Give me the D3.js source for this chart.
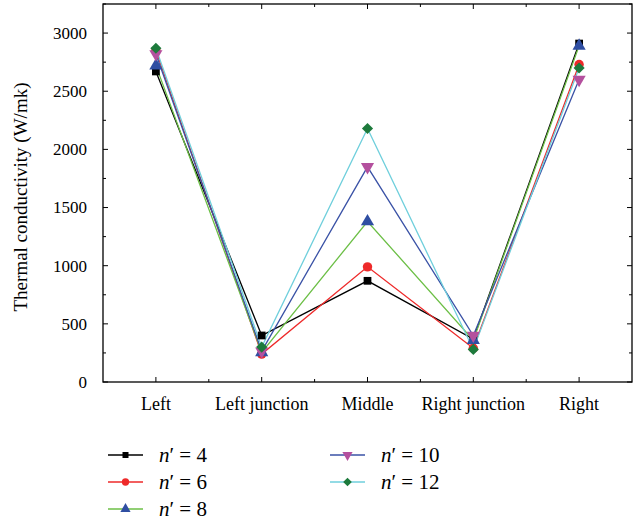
<!DOCTYPE html>
<html>
<head>
<meta charset="utf-8">
<script src="https://cdn.jsdelivr.net/npm/d3@7"></script>
<style>
  body { margin: 0; background: #fff; }
  svg { display: block; }
</style>
</head>
<body>
<div id="chart"></div>
<script>
// categories along the x axis
var categories = ["Left", "Left junction", "Middle", "Right junction", "Right"];

// series values (W/mk)
var n4  = [2670, 400, 870, 370, 2910];
var n6  = [2850, 240, 990, 290, 2730];
var n8  = [2720, 255, 1380, 360, 2890];
var n10 = [2820, 265, 1850, 400, 2600];
var n12 = [2870, 300, 2180, 280, 2700];

var seriesNames = ["4", "6", "8", "10", "12"];
var yTicks = [0, 500, 1000, 1500, 2000, 2500, 3000];

var serif = "'Liberation Serif', 'Times New Roman', 'DejaVu Serif', serif";

// set the dimensions and margins of the graph
var margin = {top: 4, right: 6, bottom: 140, left: 103},
    width = 638 - margin.left - margin.right,
    height = 522 - margin.top - margin.bottom;

var styles = [
  {line: "#000000", fill: "#000000", shape: "square"},
  {line: "#ee2a2a", fill: "#ee2a2a", shape: "circle"},
  {line: "#6cbf46", fill: "#2f4ea2", shape: "triangle"},
  {line: "#3a52a6", fill: "#b4509e", shape: "triangleDown"},
  {line: "#6fcfdc", fill: "#1d7a3c", shape: "diamond"}
];

var allSeries = [n4, n6, n8, n10, n12];

var svg = d3.select("#chart").append("svg")
    .attr("width", 638)
    .attr("height", 522)
    .attr("font-family", serif);

var g = svg.append("g")
    .attr("transform", "translate(" + margin.left + "," + margin.top + ")");

// set the ranges
var x = d3.scalePoint()
    .domain(categories)
    .range([0, width])
    .padding(0.5);
var y = d3.scaleLinear()
    .domain([0, 3250])
    .range([height, 0]);

var step = x.step();

// frame
g.append("rect")
    .attr("width", width)
    .attr("height", height)
    .attr("fill", "none")
    .attr("stroke", "#000")
    .attr("stroke-width", 1.3);

// y axis ticks (inward, mirrored on the right)
var minorY = d3.range(0, 3251, 250);
minorY.forEach(function(v) {
  var len = (v % 500 === 0) ? 5 : 3;
  g.append("line").attr("x1", 0).attr("x2", len)
    .attr("y1", y(v)).attr("y2", y(v)).attr("stroke", "#000");
  g.append("line").attr("x1", width).attr("x2", width - len)
    .attr("y1", y(v)).attr("y2", y(v)).attr("stroke", "#000");
});

g.selectAll(".ylab")
    .data(yTicks)
    .enter().append("text")
    .attr("class", "ylab")
    .attr("x", -16)
    .attr("y", function(d) { return y(d); })
    .attr("dy", "0.35em")
    .attr("text-anchor", "end")
    .attr("font-family", serif)
    .style("font-size", "17px")
    .text(function(d) { return d; });

// x axis ticks (inward, mirrored on top)
categories.forEach(function(c, i) {
  var cx = x(c);
  g.append("line").attr("x1", cx).attr("x2", cx)
    .attr("y1", height).attr("y2", height - 5).attr("stroke", "#000");
  g.append("line").attr("x1", cx).attr("x2", cx)
    .attr("y1", 0).attr("y2", 5).attr("stroke", "#000");
  if (i < categories.length - 1) {
    var mx = cx + step / 2;
    g.append("line").attr("x1", mx).attr("x2", mx)
      .attr("y1", height).attr("y2", height - 3).attr("stroke", "#000");
    g.append("line").attr("x1", mx).attr("x2", mx)
      .attr("y1", 0).attr("y2", 3).attr("stroke", "#000");
  }
});

g.selectAll(".xlab")
    .data(categories)
    .enter().append("text")
    .attr("class", "xlab")
    .attr("x", function(d) { return x(d); })
    .attr("y", height + 28)
    .attr("text-anchor", "middle")
    .attr("font-family", serif)
    .style("font-size", "18px")
    .text(function(d) { return d; });

// y axis title
g.append("text")
    .attr("transform", "translate(" + (-76) + "," + (height / 2 + 4) + ") rotate(-90)")
    .attr("text-anchor", "middle")
    .attr("font-family", serif)
    .style("font-size", "19px")
    .text("Thermal conductivity (W/mk)");

function markerPath(shape, k) {
  if (shape === "square") return d3.symbol(d3.symbolSquare, 60 * k)();
  if (shape === "circle") return d3.symbol(d3.symbolCircle, 70 * k)();
  if (shape === "triangle" || shape === "triangleDown") return d3.symbol(d3.symbolTriangle, 75 * k)();
  return d3.symbol(d3.symbolSquare, 62 * k)();
}
function markerRotate(shape) {
  if (shape === "triangleDown") return 180;
  if (shape === "diamond") return 45;
  return 0;
}

var line = d3.line()
    .x(function(d, i) { return x(categories[i]); })
    .y(function(d) { return y(d); });

allSeries.forEach(function(vals, s) {
  var st = styles[s];
  g.append("path")
      .datum(vals)
      .attr("fill", "none")
      .attr("stroke", st.line)
      .attr("stroke-width", 1.3)
      .attr("d", line);
});

allSeries.forEach(function(vals, s) {
  var st = styles[s];
  g.selectAll(".m" + s)
      .data(vals)
      .enter().append("path")
      .attr("class", "m" + s)
      .attr("fill", st.fill)
      .attr("transform", function(d, i) {
        return "translate(" + x(categories[i]) + "," + y(d) + ") rotate(" + markerRotate(st.shape) + ")";
      })
      .attr("d", markerPath(st.shape, 1));
});

// legend
var legendPos = [
  {x: 108, y: 455}, {x: 108, y: 482}, {x: 108, y: 509},
  {x: 330, y: 455}, {x: 330, y: 482}
];
allSeries.forEach(function(vals, s) {
  var st = styles[s];
  var p = legendPos[s];
  var lg = svg.append("g").attr("transform", "translate(" + p.x + "," + p.y + ")");
  lg.append("line").attr("x1", 0).attr("x2", 35).attr("y1", 0).attr("y2", 0)
    .attr("stroke", st.line).attr("stroke-width", 1.3);
  lg.append("path")
    .attr("fill", st.fill)
    .attr("transform", "translate(17.5,0) rotate(" + markerRotate(st.shape) + ")")
    .attr("d", markerPath(st.shape, 0.6));
  var t = lg.append("text")
    .attr("x", 51)
    .attr("y", 0)
    .attr("dy", "0.35em")
    .attr("font-family", serif)
    .style("font-size", "21px");
  t.append("tspan").style("font-style", "italic").text("n");
  t.append("tspan").text("\u2032 = " + seriesNames[s]);
});
</script>
</body>
</html>
